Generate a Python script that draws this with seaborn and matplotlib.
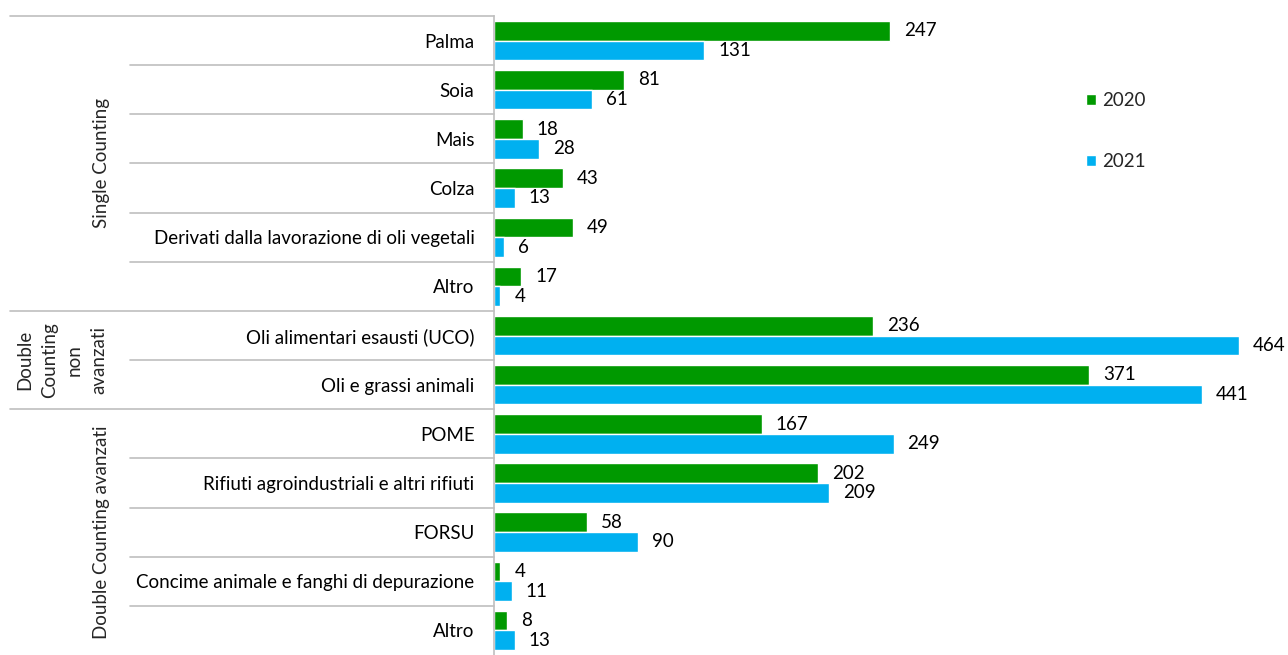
import numpy as np
import pandas as pd
import matplotlib
matplotlib.use("Agg")
import matplotlib.pyplot as plt
import matplotlib.transforms as mtransforms
import seaborn as sns

# data
categories = ["Palma", "Soia", "Mais", "Colza",
              "Derivati dalla lavorazione di oli vegetali", "Altro",
              "Oli alimentari esausti (UCO)", "Oli e grassi animali",
              "POME", "Rifiuti agroindustriali e altri rifiuti", "FORSU",
              "Concime animale e fanghi di depurazione", "Altro"]
groups = ["Single Counting", "Double\nCounting\nnon\navanzati", "Double Counting avanzati"]
group_sizes = [6, 2, 5]
years = ["2020", "2021"]
v2020 = [247, 81, 18, 43, 49, 17, 236, 371, 167, 202, 58, 4, 8]
v2021 = [131, 61, 28, 13, 6, 4, 464, 441, 249, 209, 90, 11, 13]

keys = [str(i) for i in range(len(categories))]
df = pd.DataFrame({
    "key": keys * 2,
    "anno": [years[0]] * len(keys) + [years[1]] * len(keys),
    "valore": v2020 + v2021,
})

sns.set_style("white")
plt.rcParams["font.family"] = ["Lato", "DejaVu Sans"]
FS = 13.5

W, H = 1288, 655
fig = plt.figure(figsize=(W / 100, H / 100), dpi=100)
ax = fig.add_axes([494 / W, -3 / H, 1 - 494 / W, 642 / H])

sns.barplot(data=df, y="key", x="valore", hue="anno", order=keys,
            palette=["#009900", "#00B0F0"], orient="h", width=0.8,
            saturation=1, ax=ax)

ax.set_xlim(0, 794 / 1.605)
ax.set_ylim(len(keys) - 0.5 + 0.06, -0.5)
ax.set_xlabel("")
ax.set_ylabel("")
ax.set_xticks([])
ax.set_yticks(range(len(keys)))
ax.set_yticklabels(categories, fontsize=FS, color="black")
ax.tick_params(axis="y", length=0, pad=14)
for s in ["top", "right", "bottom"]:
    ax.spines[s].set_visible(False)
ax.spines["left"].set_color("#BFBFBF")
ax.spines["left"].set_linewidth(1.2)

for cont in ax.containers:
    ax.bar_label(cont, padding=10, fontsize=FS, color="black")

# table lines on the left
tr = mtransforms.blended_transform_factory(fig.transFigure, ax.transData)
bounds = np.cumsum([0] + group_sizes)
for i in range(len(keys)):
    y = i - 0.5
    x0 = 10 / W if i in bounds else 130 / W
    ax.plot([x0, 494 / W], [y, y], color="#BFBFBF", lw=1.2,
            transform=tr, clip_on=False)

for g, a, b in zip(groups, bounds[:-1], bounds[1:]):
    yc = (a + b - 1) / 2
    xc = 62 / W if "\n" in g else 101 / W
    ax.text(xc, yc, g, transform=tr, rotation=90, ha="center", va="center",
            multialignment="center", fontsize=FS, linespacing=1.55)

handles, labels = ax.get_legend_handles_labels()
ax.legend(handles, labels, loc="upper left",
          bbox_to_anchor=(1069 / W, 1 - 75 / H), bbox_transform=fig.transFigure,
          frameon=False, fontsize=FS, handlelength=0.55, handleheight=0.55,
          handletextpad=0.3, labelspacing=2.35)

fig.savefig("out.png", dpi=100)
